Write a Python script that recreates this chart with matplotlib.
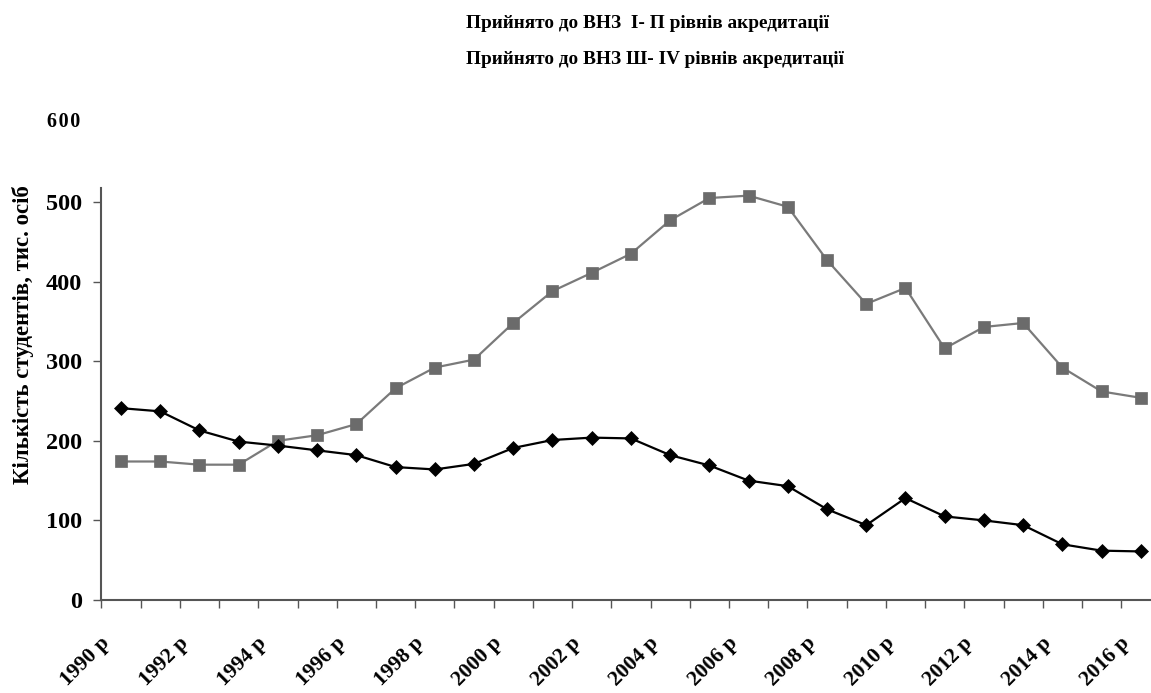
import matplotlib
matplotlib.use("Agg")
import matplotlib.pyplot as plt
import matplotlib.transforms as mtransforms
import numpy as np

# ---- data ----
years = list(range(1990, 2017))
levels_1_2 = [241, 237, 213, 199, 194, 188, 182, 167, 164, 171,
              191, 201, 204, 203, 182, 169, 150, 143, 114, 94,
              128, 105, 100, 94, 70, 62, 61]
levels_3_4 = [174, 174, 170, 170, 200, 207, 221, 266, 292, 302,
              348, 388, 411, 435, 477, 505, 508, 494, 427, 372,
              392, 316, 343, 348, 292, 262, 254]
series_labels = ["Прийнято до ВНЗ  I- П рівнів акредитації",
                 "Прийнято до ВНЗ Ш- IV рівнів акредитації"]
y_label = "Кількість студентів, тис. осіб"
y_ticks = [0, 100, 200, 300, 400, 500]
y_top_label = 600
label_years = years[::2]
x_tick_labels = [f"{y} р" for y in label_years]

plt.rcParams['font.family'] = ['Liberation Serif', 'DejaVu Serif']
plt.rcParams['font.weight'] = 'bold'

W, H = 1151, 693
fig = plt.figure(figsize=(W / 100, H / 100), dpi=100)
left_px, right_px = 101.4, 1160.4
bottom_px, top_px = 600, 122.4
ax_w = right_px - left_px
ax = fig.add_axes([left_px / W, 1 - bottom_px / H,
                   ax_w / W, (bottom_px - top_px) / H])

x = np.arange(len(years))
ax.plot(x, levels_3_4, color='#7a7a7a', lw=1.6, marker='s', markersize=8.6,
        markerfacecolor='#6b6b6b', markeredgecolor='#6b6b6b', markeredgewidth=0.5,
        label=series_labels[1], zorder=3)
ax.plot(x, levels_1_2, color='#000000', lw=1.6, marker='D', markersize=7.0,
        markerfacecolor='#000000', markeredgecolor='#000000', markeredgewidth=0.5,
        label=series_labels[0], zorder=4)

ax.set_xlim(-0.5, len(years) - 0.5)
ax.set_ylim(0, y_top_label)

for s in ['top', 'right']:
    ax.spines[s].set_visible(False)
for s in ['left', 'bottom']:
    ax.spines[s].set_color('#555555')
    ax.spines[s].set_linewidth(1.5)
ax.spines['left'].set_bounds(0, 518)

# y axis
ax.set_yticks(y_ticks)
ax.set_yticklabels([str(v) for v in y_ticks], fontsize=17.5, fontweight='bold')
ax.tick_params(axis='y', direction='out', length=6, width=1, color='#555555', pad=8)
ax.text(47 / W, y_top_label, "\u200a".join(str(y_top_label)),
        transform=mtransforms.blended_transform_factory(fig.transFigure, ax.transData),
        fontsize=14.5, fontweight='bold', ha='left', va='center')

ax.set_ylabel(y_label, fontsize=16.5, fontweight='bold')
ax.yaxis.set_label_coords(-(left_px - 34) / ax_w, (600 - 335) / 477.6)

# x axis: ticks between categories, labels every second year
ax.set_xticks([years.index(y) for y in label_years])
ax.set_xticklabels(x_tick_labels, rotation=45, ha='right', va='top',
                   fontsize=15.5, fontweight='bold')
ax.set_xticks(np.arange(-0.5, len(years), 1.0), minor=True)
ax.tick_params(axis='x', which='major', length=0, pad=24)
ax.tick_params(axis='x', which='minor', direction='out', length=6, width=1, color='#555555')
offset = mtransforms.ScaledTranslation(-7 / 100, 0, fig.dpi_scale_trans)
for lbl in ax.get_xticklabels():
    lbl.set_transform(lbl.get_transform() + offset)

# legend (text lines at top, markers hidden as in the reference)
fig.text(466 / W, 1 - 23 / H, series_labels[0], fontsize=13.9, fontweight='bold',
         ha='left', va='center')
fig.text(466 / W, 1 - 60 / H, series_labels[1], fontsize=13.9, fontweight='bold',
         ha='left', va='center')

fig.savefig("out.png", dpi=100, facecolor='white')
